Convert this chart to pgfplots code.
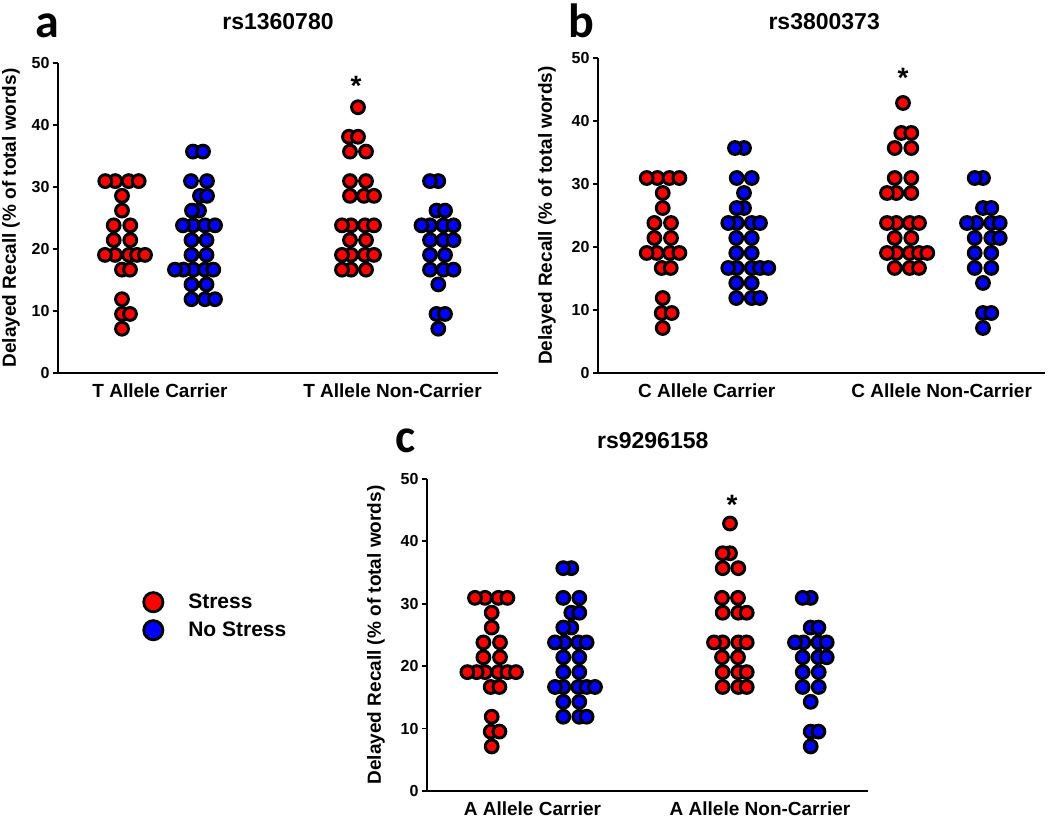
\documentclass[border=0pt]{standalone}
\usepackage{fontspec}
\setmainfont{Liberation Sans}
\newfontfamily\letterfont{Carlito}
\usepackage{pgfplots}
\usepackage{pgfplotstable}
\pgfplotsset{compat=1.18}

% d = horizontal jitter (1 unit = 10 px), v = delayed recall (%)
% panel a
\pgfplotstableread{
d v
-0.67 30.95
0.67 30.95
-1.67 30.95
1.67 30.95
0 28.57
0 26.19
-0.83 23.81
0.83 23.81
-0.83 21.43
0.83 21.43
-0.7 19.05
0.7 19.05
-1.7 19.05
1.5 19.05
2.3 19.05
0 16.67
0.8 16.67
0 11.90
0 9.52
0.8 9.52
0 7.14
}\aCr
\pgfplotstableread{
d v
-0.6 35.71
0.4 35.71
-0.8 30.95
0.8 30.95
0.1 28.57
0.8 28.57
0 26.19
-0.7 26.19
-0.6 23.81
0.6 23.81
-1.6 23.81
1.6 23.81
-0.75 21.43
0.75 21.43
-0.75 19.05
0.75 19.05
-0.57 16.67
0.6 16.67
-1.57 16.67
1.43 16.67
-2.4 16.67
-0.75 14.29
0.75 14.29
-0.75 11.90
0.6 11.90
1.6 11.90
}\aCb
\pgfplotstableread{
d v
0 42.86
-0.9 38.10
0 38.10
-0.8 35.71
0.8 35.71
-0.8 30.95
0.8 30.95
-0.8 28.57
0.6 28.57
1.6 28.57
-0.7 23.81
0.7 23.81
-1.6 23.81
1.6 23.81
-0.8 21.43
0.8 21.43
-0.7 19.05
0.7 19.05
-1.6 19.05
1.6 19.05
-0.7 16.67
0.8 16.67
-1.6 16.67
}\aNr
\pgfplotstableread{
d v
0.18 30.95
-0.65 30.95
0 26.19
0.85 26.19
-0.65 23.81
0.7 23.81
-1.5 23.81
1.7 23.81
-0.65 21.43
0.7 21.43
1.7 21.43
-0.65 19.05
0.85 19.05
-0.65 16.67
0.7 16.67
1.7 16.67
0.18 14.29
0 9.52
0.85 9.52
0.18 7.14
}\aNb
% panel b
\pgfplotstableread{
d v
-0.53 30.95
0.67 30.95
-1.6 30.95
1.67 30.95
0 28.57
0 26.19
-0.83 23.81
0.83 23.81
-0.83 21.43
0.83 21.43
-0.6 19.05
0.73 19.05
-1.6 19.05
1.67 19.05
-0.1 16.67
0.8 16.67
0 11.90
-0.1 9.52
0.9 9.52
0 7.14
}\bCr
\pgfplotstableread{
d v
0 35.71
-0.9 35.71
-0.73 30.95
0.77 30.95
0 28.57
0 26.19
-0.73 26.19
-0.73 23.81
0.77 23.81
-1.57 23.81
1.6 23.81
-0.77 21.43
0.77 21.43
-0.77 19.05
0.77 19.05
-0.73 16.67
0.77 16.67
-1.57 16.67
1.6 16.67
2.43 16.67
-0.77 14.29
0.77 14.29
-0.77 11.90
0.77 11.90
1.6 11.90
}\bCb
\pgfplotstableread{
d v
0 42.86
-0.17 38.10
0.83 38.10
-0.83 35.71
0.83 35.71
-0.83 30.95
0.83 30.95
-0.67 28.57
0.83 28.57
-1.6 28.57
-0.67 23.81
0.67 23.81
-1.6 23.81
1.6 23.81
-0.83 21.43
0.83 21.43
-0.67 19.05
0.67 19.05
-1.6 19.05
1.6 19.05
2.43 19.05
-0.83 16.67
0.67 16.67
1.6 16.67
}\bNr
\pgfplotstableread{
d v
0 30.95
-0.83 30.95
0 26.19
0.83 26.19
-0.67 23.81
0.83 23.81
-1.6 23.81
1.67 23.81
-0.83 21.43
0.83 21.43
1.67 21.43
-0.83 19.05
0.83 19.05
-0.83 16.67
0.83 16.67
0 14.29
0 9.52
0.83 9.52
0 7.14
}\bNb
% panel c
\pgfplotstableread{
d v
-0.67 30.95
0.67 30.95
-1.67 30.95
1.57 30.95
0 28.57
0 26.19
-0.83 23.81
0.83 23.81
-0.83 21.43
0.83 21.43
-0.67 19.05
0.67 19.05
-1.5 19.05
1.57 19.05
-2.43 19.05
2.43 19.05
-0.1 16.67
0.77 16.67
0 11.90
-0.1 9.52
0.77 9.52
0 7.14
}\cCr
\pgfplotstableread{
d v
0 35.71
-0.8 35.71
-0.8 30.95
0.8 30.95
0 28.57
0.8 28.57
0 26.19
-0.8 26.19
-0.7 23.81
0.7 23.81
-1.63 23.81
1.53 23.81
-0.8 21.43
0.8 21.43
-0.8 19.05
0.8 19.05
-0.8 16.67
0.7 16.67
-1.63 16.67
1.53 16.67
2.37 16.67
-0.8 14.29
0.8 14.29
-0.8 11.90
0.8 11.90
1.53 11.90
}\cCb
\pgfplotstableread{
d v
0 42.86
0 38.10
-0.73 38.10
-0.73 35.71
0.83 35.71
-0.8 30.95
0.8 30.95
-0.73 28.57
0.83 28.57
1.67 28.57
-0.73 23.81
0.83 23.81
-1.6 23.81
1.67 23.81
-0.8 21.43
0.8 21.43
-0.73 19.05
0.83 19.05
1.67 19.05
-0.73 16.67
0.83 16.67
1.67 16.67
}\cNr
\pgfplotstableread{
d v
0 30.95
-0.8 30.95
0 26.19
0.77 26.19
-0.73 23.81
0.77 23.81
-1.57 23.81
1.6 23.81
-0.8 21.43
0.77 21.43
1.6 21.43
-0.8 19.05
0.8 19.05
-0.8 16.67
0.8 16.67
0 14.29
0 9.52
0.77 9.52
0 7.14
}\cNb

\pgfplotsset{
  panel/.style={
    scale only axis, anchor=south west,
    xmin=0, ymin=0, ymax=50,
    axis lines*=left, axis line style={-, line width=2.6pt},
    ytick={0,10,...,50}, ytick align=outside, major tick length=5pt,
    ytick style={line width=1.8pt, black},
    xtick style={draw=none},
    /pgf/number format/assume math mode=true,
    yticklabel style={font=\fontsize{16}{18}\selectfont\bfseries},
    xticklabel style={font=\fontsize{19}{22}\selectfont\bfseries, anchor=north, inner sep=0pt, yshift=-11pt},
    ylabel={Delayed Recall (\% of total words)},
    ylabel style={font=\fontsize{19}{22}\selectfont\bfseries, anchor=center},
    title style={font=\fontsize{23}{26}\selectfont\bfseries, anchor=center},
    clip=false,
  },
  dots/.style={only marks, mark=*, mark size=6.4pt,
    mark options={line width=3pt, draw=black, fill=#1}, forget plot},
}
\newcommand{\sigfont}{\fontsize{28}{30}\selectfont\bfseries}

\begin{document}
\begin{tikzpicture}
\path[use as bounding box] (0,0) rectangle (1050pt,818pt);

% panel a
\begin{axis}[panel, at={(58pt,445pt)}, width=440pt, height=310pt, xmax=44,
  xtick={10.2,33.45}, xticklabels={T Allele Carrier, T Allele Non-Carrier},
  title={rs1360780}, title style={at={(axis description cs:0.5,1.113)}},
  ylabel style={at={(axis description cs:-0.107,0.5)}}]
\addplot[dots=red] table[x expr=\thisrow{d}+6.4, y=v] {\aCr};
\addplot[dots=blue] table[x expr=\thisrow{d}+14.1, y=v] {\aCb};
\addplot[dots=red] table[x expr=\thisrow{d}+30.0, y=v] {\aNr};
\addplot[dots=blue] table[x expr=\thisrow{d}+37.85, y=v] {\aNb};
\node[font=\sigfont] at (axis cs:29.8,46.3) {*};
\end{axis}

% panel b
\begin{axis}[panel, at={(598pt,445pt)}, width=447pt, height=315pt, xmax=44.7,
  xtick={10.87,34.37}, xticklabels={C Allele Carrier, C Allele Non-Carrier},
  title={rs3800373}, title style={at={(axis description cs:0.506,1.095)}},
  ylabel style={at={(axis description cs:-0.114,0.5)}}]
\addplot[dots=red] table[x expr=\thisrow{d}+6.47, y=v] {\bCr};
\addplot[dots=blue] table[x expr=\thisrow{d}+14.6, y=v] {\bCb};
\addplot[dots=red] table[x expr=\thisrow{d}+30.5, y=v] {\bNr};
\addplot[dots=blue] table[x expr=\thisrow{d}+38.5, y=v] {\bNb};
\node[font=\sigfont] at (axis cs:30.5,46.8) {*};
\end{axis}

% panel c
\begin{axis}[panel, at={(427pt,27pt)}, width=441pt, height=312pt, xmax=44.1,
  xtick={10.55,33.3}, xticklabels={A Allele Carrier, A Allele Non-Carrier},
  title={rs9296158}, title style={at={(axis description cs:0.512,1.104)}},
  ylabel style={at={(axis description cs:-0.116,0.5)}},
  legend cell align=left,
  legend style={at={(axis description cs:-0.646,0.641)}, anchor=north west,
    draw=none, fill=none, inner sep=0pt, row sep=6pt,
    font=\fontsize{21}{24}\selectfont\bfseries, nodes={inner sep=0pt}}]
\addlegendimage{legend image code/.code={\draw[line width=2.8pt, draw=black, fill=red] (0pt,0pt) circle (9.6pt);}}
\addlegendentry{\hspace*{24pt}Stress}
\addlegendimage{legend image code/.code={\draw[line width=2.8pt, draw=black, fill=blue] (0pt,0pt) circle (9.6pt);}}
\addlegendentry{\hspace*{24pt}No Stress}
\addplot[dots=red] table[x expr=\thisrow{d}+6.47, y=v] {\cCr};
\addplot[dots=blue] table[x expr=\thisrow{d}+14.43, y=v] {\cCb};
\addplot[dots=red] table[x expr=\thisrow{d}+30.3, y=v] {\cNr};
\addplot[dots=blue] table[x expr=\thisrow{d}+38.37, y=v] {\cNb};
\node[font=\sigfont] at (axis cs:30.5,45.9) {*};
\end{axis}

\node[anchor=base west, inner sep=0pt, font=\letterfont\fontsize{48}{50}\selectfont\bfseries] at (35pt,780pt) {a};
\node[anchor=base west, inner sep=0pt, font=\letterfont\fontsize{48}{50}\selectfont\bfseries] at (568pt,780pt) {b};
\node[anchor=base west, inner sep=0pt, font=\letterfont\fontsize{48}{50}\selectfont\bfseries] at (395pt,365pt) {c};
\end{tikzpicture}
\end{document}
